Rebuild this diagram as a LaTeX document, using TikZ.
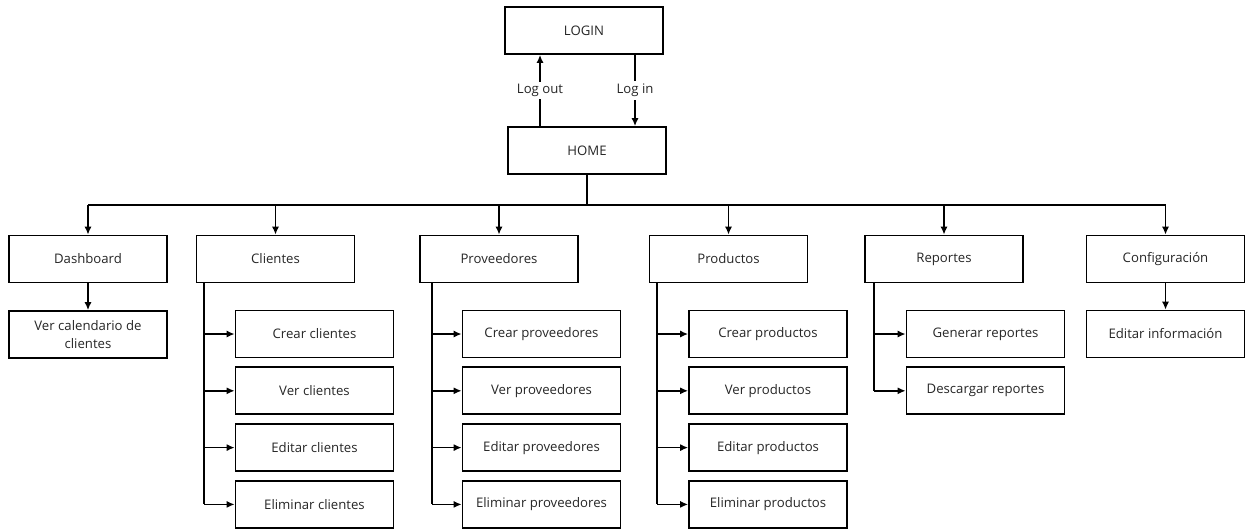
\documentclass[tikz,border=0pt]{standalone}
\usepackage{fontspec}
\setmainfont{Open Sans}
\usetikzlibrary{arrows.meta}
\colorlet{ink}{black!85}
\tikzset{
  % node options
  page/.style={rectangle,draw=black,line width=1pt,text=ink,
    minimum width=3.16cm,minimum height=0.94cm,inner sep=2pt,align=center,
    font=\fontsize{7.5}{10}\selectfont},
  action/.style={fill=white,text=ink,inner sep=1.5pt,font=\fontsize{7.5}{9}\selectfont},
  % path options
  link/.style={line width=1pt},
  flow/.style={link,-{Latex[length=4.5pt,width=4pt]}},
}

\begin{document}
\begin{tikzpicture}[x=0.02cm,y=-0.02cm]
  \useasboundingbox (0,0) rectangle (1246,529);
  % login / home
  \node[page] (login) at (584,30.5) {LOGIN};
  \node[page] (home) at (587,150.5) {HOME};
  \coordinate (out) at (540,90);
  \coordinate (in) at (635,90);
  \draw[flow] (home.north -| out) -- node[action] {Log out} (login.south -| out);
  \draw[flow] (login.south -| in) -- node[action] {Log in} (home.north -| in);
  % main sections
  \node[page] (dash) at (88,259) {Dashboard};
  \node[page] (cli) at (275.5,259) {Clientes};
  \node[page] (prov) at (499,259) {Proveedores};
  \node[page] (prod) at (728.5,259) {Productos};
  \node[page] (rep) at (944,259) {Reportes};
  \node[page] (conf) at (1165.5,259) {Configuración};
  \coordinate (bus) at (0,205);
  \draw[link] (home.south) -- (home.south |- bus);
  \draw[link] (dash.north |- bus) -- (conf.north |- bus);
  \foreach \n in {dash,cli,prov,prod,rep,conf}
    \draw[flow] (\n.north |- bus) -- (\n.north);
  % single children
  \node[page] (cal) at (88,334.5) {Ver calendario de\\clientes};
  \node[page] (info) at (1165.5,334) {Editar información};
  \draw[flow] (dash) -- (cal);
  \draw[flow] (conf) -- (info);
  % clientes
  \foreach \t [count=\i] in {Crear clientes,Ver clientes,Editar clientes,Eliminar clientes}
    \node[page] (cli\i) at (314.5,{334+56.8*(\i-1)}) {\t};
  \coordinate (cliB) at (204,0);
  \draw[link] (cli.south -| cliB) -- (cli4 -| cliB);
  \foreach \i in {1,...,4}
    \draw[flow] (cli\i -| cliB) -- (cli\i);
  % proveedores
  \foreach \t [count=\i] in {Crear proveedores,Ver proveedores,Editar proveedores,Eliminar proveedores}
    \node[page] (prov\i) at (541.5,{334+56.8*(\i-1)}) {\t};
  \coordinate (provB) at (432,0);
  \draw[link] (prov.south -| provB) -- (prov4 -| provB);
  \foreach \i in {1,...,4}
    \draw[flow] (prov\i -| provB) -- (prov\i);
  % productos
  \foreach \t [count=\i] in {Crear productos,Ver productos,Editar productos,Eliminar productos}
    \node[page] (prod\i) at (768,{334+56.8*(\i-1)}) {\t};
  \coordinate (prodB) at (657,0);
  \draw[link] (prod.south -| prodB) -- (prod4 -| prodB);
  \foreach \i in {1,...,4}
    \draw[flow] (prod\i -| prodB) -- (prod\i);
  % reportes
  \foreach \t [count=\i] in {Generar reportes,Descargar reportes}
    \node[page] (rep\i) at (985.5,{334+56.8*(\i-1)}) {\t};
  \coordinate (repB) at (874,0);
  \draw[link] (rep.south -| repB) -- (rep2 -| repB);
  \foreach \i in {1,2}
    \draw[flow] (rep\i -| repB) -- (rep\i);
\end{tikzpicture}
\end{document}
